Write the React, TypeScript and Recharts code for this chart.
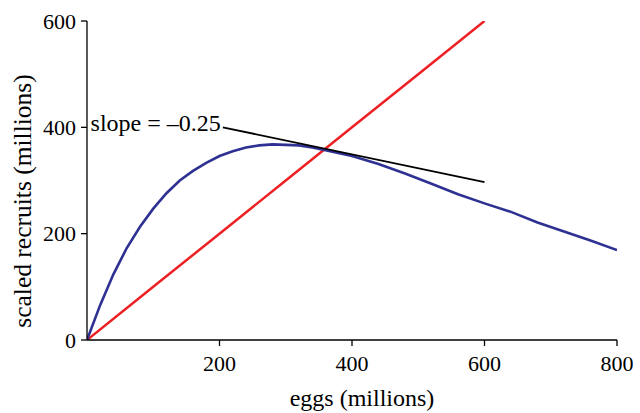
import { Label, Line, LineChart, ReferenceDot, XAxis, YAxis } from "recharts";

// stock-recruitment curve (blue)
const curveEggs = [0, 20, 40, 60, 80, 100, 120, 140, 160, 180, 200, 220, 240, 260, 280, 300, 320, 340, 360, 400, 440, 480, 520, 560, 600, 640, 680, 720, 760, 800];
const curveRecruits = [0, 66, 124, 173, 213, 247, 276, 300, 318, 333, 346, 355, 362, 366, 368, 367, 366, 362, 357, 346, 331, 313, 294, 274, 257, 241, 221, 204, 187, 169];

// replacement line (red)
const replEggs = [0, 100, 200, 300, 400, 500, 600];
const replRecruits = [0, 100, 200, 300, 400, 500, 600];

// tangent at the crossing point (black)
const slopeEggs = [205, 600];
const slopeRecruits = [400, 297];
const slopeText = "slope = –0.25";

const xTicks = [200, 400, 600, 800];
const yTicks = [0, 200, 400, 600];

const curveData = curveEggs.map((x, i) => ({ x, y: curveRecruits[i] }));
const replData = replEggs.map((x, i) => ({ x, y: replRecruits[i] }));
const slopeData = slopeEggs.map((x, i) => ({ x, y: slopeRecruits[i] }));

const font = "Liberation Serif";
const tickStyle = { fill: "#000", fontSize: 22, fontFamily: font };

export default function App() {
  return (
    <div style={{ position: "absolute", left: 0, top: 0, background: "#fff" }}>
      <LineChart
        width={640}
        height={413}
        margin={{ top: 21, right: 23, bottom: 0, left: 0 }}
      >
        <XAxis
          dataKey="x"
          type="number"
          domain={[0, 800]}
          ticks={xTicks}
          height={73}
          tick={tickStyle}
          tickSize={6}
          tickMargin={9}
          axisLine={{ stroke: "#000", strokeWidth: 1.3 }}
          tickLine={{ stroke: "#000", strokeWidth: 1.3 }}
          allowDataOverflow
        >
          <Label
            content={(p: any) => (
              <text
                x={p.viewBox.x + p.viewBox.width / 2 + 10}
                y={406}
                textAnchor="middle"
                fontSize={24}
                fontFamily={font}
                fill="#000"
              >
                eggs (millions)
              </text>
            )}
          />
        </XAxis>
        <YAxis
          type="number"
          domain={[0, 600]}
          ticks={yTicks}
          width={87}
          tick={tickStyle}
          tickSize={6}
          tickMargin={5}
          axisLine={{ stroke: "#000", strokeWidth: 1.3 }}
          tickLine={{ stroke: "#000", strokeWidth: 1.3 }}
          allowDataOverflow
        >
          <Label
            content={() => (
              <text
                transform="translate(31, 201) rotate(-90)"
                x={0}
                y={0}
                textAnchor="middle"
                fontSize={25.5}
                fontFamily={font}
                fill="#000"
              >
                scaled recruits (millions)
              </text>
            )}
          />
        </YAxis>
        <Line
          data={replData}
          dataKey="y"
          type="linear"
          stroke="#ED2024"
          strokeWidth={2.5}
          dot={false}
          isAnimationActive={false}
        />
        <Line
          data={curveData}
          dataKey="y"
          type="linear"
          stroke="#2E3192"
          strokeWidth={2.6}
          dot={false}
          isAnimationActive={false}
        />
        <Line
          data={slopeData}
          dataKey="y"
          type="linear"
          stroke="#000"
          strokeWidth={1.8}
          dot={false}
          isAnimationActive={false}
        />
        <ReferenceDot
          x={slopeEggs[0]}
          y={slopeRecruits[0]}
          r={0}
          fill="none"
          stroke="none"
          label={(p: any) => (
            <text
              x={p.viewBox.x - 2}
              y={p.viewBox.y + 4}
              textAnchor="end"
              fontSize={24}
              fontFamily={font}
              fill="#000"
            >
              {slopeText}
            </text>
          )}
        />
      </LineChart>
    </div>
  );
}
